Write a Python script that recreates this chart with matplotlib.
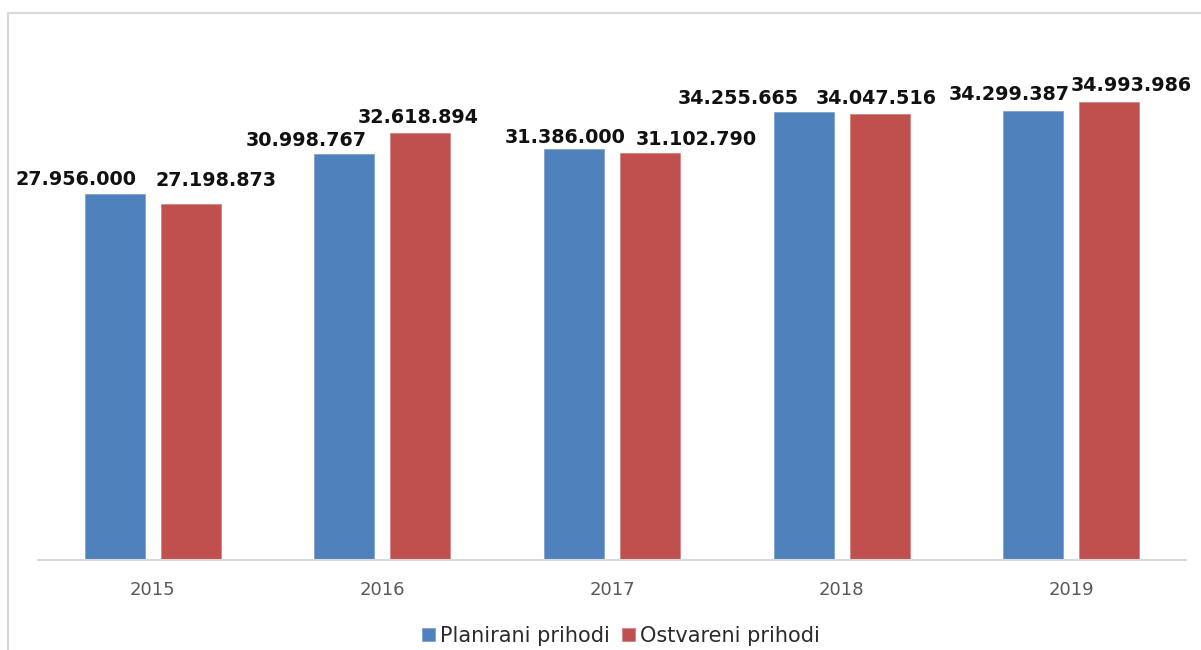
import matplotlib
matplotlib.use("Agg")
import matplotlib.pyplot as plt
from matplotlib.lines import Line2D
import numpy as np

years = ["2015", "2016", "2017", "2018", "2019"]
planirani = [27956000, 30998767, 31386000, 34255665, 34299387]
ostvareni = [27198873, 32618894, 31102790, 34047516, 34993986]
series_names = ["Planirani prihodi", "Ostvareni prihodi"]


def fmt(v):
    return f"{v:,}".replace(",", ".")


W, H = 1201, 650
fig = plt.figure(figsize=(W / 100, H / 100), dpi=100)

# light frame around the chart area
fig.add_artist(Line2D([8 / W, 8 / W, 1.0], [0.0, 1 - 13 / H, 1 - 13 / H],
                      transform=fig.transFigure, color="#d9d9d9", lw=1.6))

ax = fig.add_axes([38 / W, 90 / H, 1148 / W, 523.6 / H])
x = np.arange(len(years))
bw = 0.261
off = 0.1655
blue = "#4f81bd"
red = "#c0504d"
b1 = ax.bar(x - off, planirani, bw, color=blue, edgecolor="#7ea3d1", linewidth=0.6,
            label=series_names[0])
b2 = ax.bar(x + off, ostvareni, bw, color=red, edgecolor="#d68482", linewidth=0.6,
            label=series_names[1])

ax.set_xlim(-0.5, len(years) - 0.5)
ax.set_ylim(0, 40000000)

# value labels, nudged (pixels) so neighbouring labels do not collide
blue_shift = [(-39, 15), (-38, 14), (-9, 12), (-65, 13), (-24, 17)]
red_shift = [(25, 23), (-2, 16), (46, 13), (-3, 16), (22, 16)]
for xi, v, (dx, dy) in zip(x - off, planirani, blue_shift):
    ax.annotate(fmt(v), (xi, v), xytext=(dx, dy), textcoords="offset pixels",
                ha="center", va="center", fontsize=13.8, fontweight="bold",
                color="#111111", annotation_clip=False)
for xi, v, (dx, dy) in zip(x + off, ostvareni, red_shift):
    ax.annotate(fmt(v), (xi, v), xytext=(dx, dy), textcoords="offset pixels",
                ha="center", va="center", fontsize=13.8, fontweight="bold",
                color="#111111", annotation_clip=False)

for s in ["top", "right", "left"]:
    ax.spines[s].set_visible(False)
ax.spines["bottom"].set_color("#d9d9d9")
ax.spines["bottom"].set_linewidth(1.5)
ax.set_yticks([])
ax.set_xticks(x)
ax.set_xticklabels(years, fontsize=13, color="#595959")
ax.tick_params(axis="x", length=0, pad=15)

leg = fig.legend(handles=[b1, b2], loc="center", bbox_to_anchor=(621 / W, 1 - 636 / H),
                 ncol=2, frameon=False, fontsize=15, handlelength=0.6, handleheight=0.6,
                 handletextpad=0.25, columnspacing=0.6, labelcolor="#2b2b2b")

fig.savefig("out.png", dpi=100)
